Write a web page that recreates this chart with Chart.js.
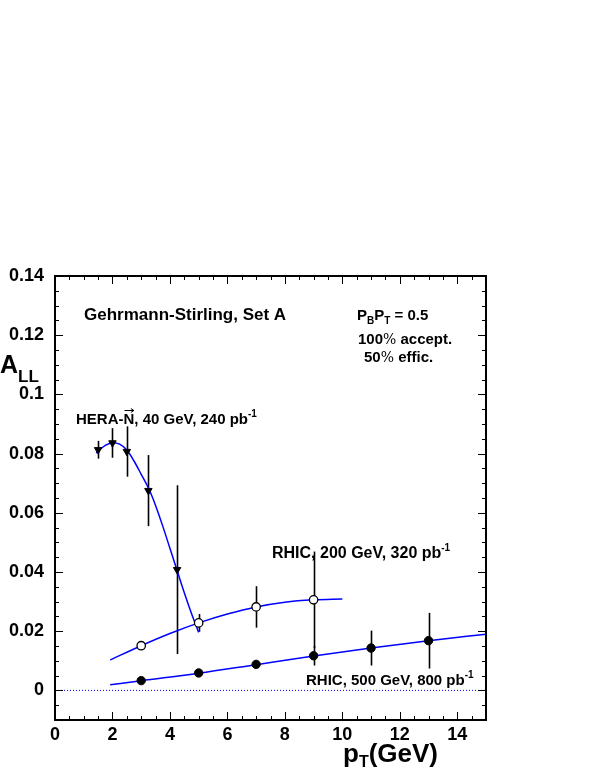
<!DOCTYPE html>
<html><head><meta charset="utf-8">
<script src="https://cdn.jsdelivr.net/npm/chart.js@4/dist/chart.umd.min.js"></script>
<style>html,body{margin:0;padding:0;background:#fff;} #wrap{width:599px;height:776px;position:relative;}</style>
</head><body><div id="wrap"><canvas id="c" width="599" height="776"></canvas></div>
<script>
// ---- data ----
const xTickValues = [0, 2, 4, 6, 8, 10, 12, 14];
const xTickLabels = ['0', '2', '4', '6', '8', '10', '12', '14'];
const yTickValues = [0, 0.02, 0.04, 0.06, 0.08, 0.1, 0.12, 0.14];
const yTickLabels = ['0', '0.02', '0.04', '0.06', '0.08', '0.1', '0.12', '0.14'];

const heraX = [1.5, 2.0, 2.5, 3.25, 4.25];
const heraY = [0.0813, 0.0836, 0.0807, 0.0675, 0.0408];
const heraErr = [0.003, 0.005, 0.0085, 0.012, 0.0285];

const rhic200X = [3, 5, 7, 9];
const rhic200Y = [0.0151, 0.0228, 0.0282, 0.0306];
const rhic200Err = [0.0008, 0.003, 0.007, 0.0163];

const rhic500X = [3, 5, 7, 9, 11, 13];
const rhic500Y = [0.0033, 0.0059, 0.0088, 0.0117, 0.0143, 0.0168];
const rhic500Err = [0.0005, 0.0005, 0.0012, 0.0033, 0.0059, 0.0094];

const heraCurveX = [1.43, 1.75, 2.0, 2.25, 2.5, 2.75, 3.0, 3.28, 3.5, 3.75, 4.0, 4.25, 4.5, 4.75, 5.0];
const heraCurveY = [0.0802, 0.0828, 0.0837, 0.0832, 0.0812, 0.0775, 0.0730, 0.0678, 0.0625, 0.0555, 0.0480, 0.0405, 0.0330, 0.0260, 0.0196];

const rhic200CurveX = [1.92, 3, 4, 5, 6, 7, 8, 9, 10];
const rhic200CurveY = [0.0103, 0.0151, 0.0192, 0.0228, 0.0258, 0.0282, 0.0298, 0.0306, 0.0309];

const rhic500CurveX = [1.92, 3, 5, 7, 9, 11, 13, 15];
const rhic500CurveY = [0.0019, 0.0033, 0.0058, 0.0087, 0.0116, 0.0143, 0.0168, 0.0190];

const zeroLineX = [0, 15];
const zeroLineY = [0, 0];

// ---- build ----
const FONT = '"Liberation Sans", Arial, Helvetica, sans-serif';
const BLUE = '#0000ff';
const pts = (xs, ys) => xs.map((x, i) => ({ x: x, y: ys[i] }));

const errorSets = [
  { x: heraX, y: heraY, e: heraErr },
  { x: rhic200X, y: rhic200Y, e: rhic200Err },
  { x: rhic500X, y: rhic500Y, e: rhic500Err }
];

function drawRich(ctx, x, y, parts) {
  let cx = x;
  parts.forEach(p => {
    ctx.font = p.font;
    ctx.fillText(p.t, cx, y + (p.dy || 0));
    cx += ctx.measureText(p.t).width;
  });
  return cx;
}

const framePlugin = {
  id: 'frame',
  beforeDatasetsDraw(chart) {
    const ctx = chart.ctx, xs = chart.scales.x, ys = chart.scales.y;
    ctx.save();
    ctx.strokeStyle = '#000';
    ctx.lineWidth = 1.6;
    errorSets.forEach(es => {
      es.x.forEach((xv, i) => {
        const px = Math.round(xs.getPixelForValue(xv)) + 0.5;
        ctx.beginPath();
        ctx.moveTo(px, ys.getPixelForValue(es.y[i] - es.e[i]));
        ctx.lineTo(px, ys.getPixelForValue(es.y[i] + es.e[i]));
        ctx.stroke();
      });
    });
    ctx.restore();
  },
  afterDraw(chart) {
    const ctx = chart.ctx, xs = chart.scales.x, ys = chart.scales.y;
    const a = chart.chartArea;
    ctx.save();
    ctx.strokeStyle = '#000';
    ctx.lineWidth = 1;
    // ticks
    const xMinor = [];
    for (let v = xs.min; v <= xs.max + 1e-9; v += 0.5) xMinor.push(v);
    const yMinor = [];
    for (let v = ys.min; v <= ys.max + 1e-9; v += 0.005) yMinor.push(v);
    const isMajor = (arr, v) => arr.some(m => Math.abs(m - v) < 1e-9);
    ctx.beginPath();
    xMinor.forEach(v => {
      const px = Math.round(xs.getPixelForValue(v)) + 0.5;
      const L = isMajor(xTickValues, v) ? 8 : 4;
      ctx.moveTo(px, a.bottom); ctx.lineTo(px, a.bottom - L);
      ctx.moveTo(px, a.top); ctx.lineTo(px, a.top + L);
    });
    yMinor.forEach(v => {
      const py = Math.round(ys.getPixelForValue(v)) + 0.5;
      const L = isMajor(yTickValues, v) ? 8 : 4;
      ctx.moveTo(a.left, py); ctx.lineTo(a.left + L, py);
      ctx.moveTo(a.right, py); ctx.lineTo(a.right - L, py);
    });
    ctx.stroke();
    // frame
    ctx.lineWidth = 2;
    ctx.strokeRect(a.left, a.top, a.right - a.left, a.bottom - a.top);

    // texts
    ctx.fillStyle = '#000';
    ctx.textBaseline = 'alphabetic';
    ctx.textAlign = 'left';
    const b = s => 'bold ' + s + 'px ' + FONT;
    const pct = s => s + 'px "DejaVu Serif", "Liberation Serif", serif';
    drawRich(ctx, 84, 320, [{ t: 'Gehrmann-Stirling, Set A', font: b(17) }]);
    drawRich(ctx, 357, 320, [
      { t: 'P', font: b(15) }, { t: 'B', font: b(10), dy: 4 },
      { t: 'P', font: b(15) }, { t: 'T', font: b(10), dy: 4 },
      { t: ' = 0.5', font: b(15) }
    ]);
    drawRich(ctx, 358, 344, [{ t: '100', font: b(15) }, { t: '%', font: pct(14) }, { t: ' accept.', font: b(15) }]);
    drawRich(ctx, 364, 362, [{ t: '50', font: b(15) }, { t: '%', font: pct(14) }, { t: ' effic.', font: b(15) }]);

    // HERA label with arrow over N
    ctx.font = b(15);
    const preW = ctx.measureText('HERA-').width;
    const nW = ctx.measureText('N').width;
    drawRich(ctx, 76, 424, [
      { t: 'HERA-N, 40 GeV, 240 pb', font: b(15) },
      { t: '-1', font: b(10), dy: -7 }
    ]);
    const ax0 = 76 + preW + 1, ax1 = 76 + preW + nW - 0.5, ay = 424 - 13.5;
    ctx.lineWidth = 1;
    ctx.beginPath();
    ctx.moveTo(ax0, ay); ctx.lineTo(ax1, ay);
    ctx.moveTo(ax1 - 3, ay - 2); ctx.lineTo(ax1, ay); ctx.lineTo(ax1 - 3, ay + 2);
    ctx.stroke();

    drawRich(ctx, 272, 558, [{ t: 'RHIC, 200 GeV, 320 pb', font: b(16) }, { t: '-1', font: b(10), dy: -7 }]);
    drawRich(ctx, 306, 685, [{ t: 'RHIC, 500 GeV, 800 pb', font: b(15) }, { t: '-1', font: b(10), dy: -7 }]);

    // axis titles
    drawRich(ctx, 0, 373, [{ t: 'A', font: b(25) }, { t: 'LL', font: b(17), dy: 9 }]);
    drawRich(ctx, 343, 762, [{ t: 'p', font: b(26) }, { t: 'T', font: b(16), dy: 5 }, { t: '(GeV)', font: b(26) }]);
    ctx.restore();
  }
};

new Chart(document.getElementById('c'), {
  type: 'scatter',
  data: {
    datasets: [
      { label: 'HERA-N 40 GeV', data: pts(heraX, heraY), pointStyle: 'triangle', rotation: 180, pointRadius: 4.3,
        backgroundColor: '#000', borderColor: '#000', borderWidth: 1, showLine: false },
      { label: 'RHIC 200 GeV', data: pts(rhic200X, rhic200Y), pointStyle: 'circle', pointRadius: 4.2,
        backgroundColor: '#fff', borderColor: '#000', borderWidth: 1.3, showLine: false },
      { label: 'RHIC 500 GeV', data: pts(rhic500X, rhic500Y), pointStyle: 'circle', pointRadius: 4.2,
        backgroundColor: '#000', borderColor: '#000', borderWidth: 1, showLine: false },
      { label: 'HERA curve', data: pts(heraCurveX, heraCurveY), showLine: true, pointRadius: 0,
        borderColor: BLUE, borderWidth: 1.5, cubicInterpolationMode: 'monotone', fill: false },
      { label: 'RHIC200 curve', data: pts(rhic200CurveX, rhic200CurveY), showLine: true, pointRadius: 0,
        borderColor: BLUE, borderWidth: 1.5, cubicInterpolationMode: 'monotone', fill: false },
      { label: 'RHIC500 curve', data: pts(rhic500CurveX, rhic500CurveY), showLine: true, pointRadius: 0,
        borderColor: BLUE, borderWidth: 1.5, cubicInterpolationMode: 'monotone', fill: false },
      { label: 'zero', data: pts(zeroLineX, zeroLineY), showLine: true, pointRadius: 0,
        borderColor: BLUE, borderWidth: 1, borderDash: [1, 2], fill: false }
    ]
  },
  options: {
    responsive: false,
    animation: false,
    events: [],
    layout: { padding: { left: 0, top: 276, right: 113, bottom: 0 } },
    plugins: { legend: { display: false }, tooltip: { enabled: false } },
    scales: {
      x: {
        type: 'linear', min: 0, max: 15,
        grid: { display: false, drawTicks: false },
        border: { display: false },
        afterBuildTicks: s => { s.ticks = xTickValues.map(v => ({ value: v })); },
        afterFit: s => { s.height = 56; },
        ticks: { color: '#000', font: { family: FONT, size: 18, weight: 'bold' }, padding: 4,
          maxRotation: 0, autoSkip: false,
          callback: (v, i) => xTickLabels[i] }
      },
      y: {
        type: 'linear', min: -0.01, max: 0.14,
        grid: { display: false, drawTicks: false },
        border: { display: false },
        afterBuildTicks: s => { s.ticks = yTickValues.map(v => ({ value: v })); },
        afterFit: s => { s.width = 55; },
        ticks: { color: '#000', font: { family: FONT, size: 18, weight: 'bold' }, padding: 11,
          autoSkip: false,
          callback: (v, i) => yTickLabels[i] }
      }
    }
  },
  plugins: [framePlugin]
});
</script>
</body></html>
